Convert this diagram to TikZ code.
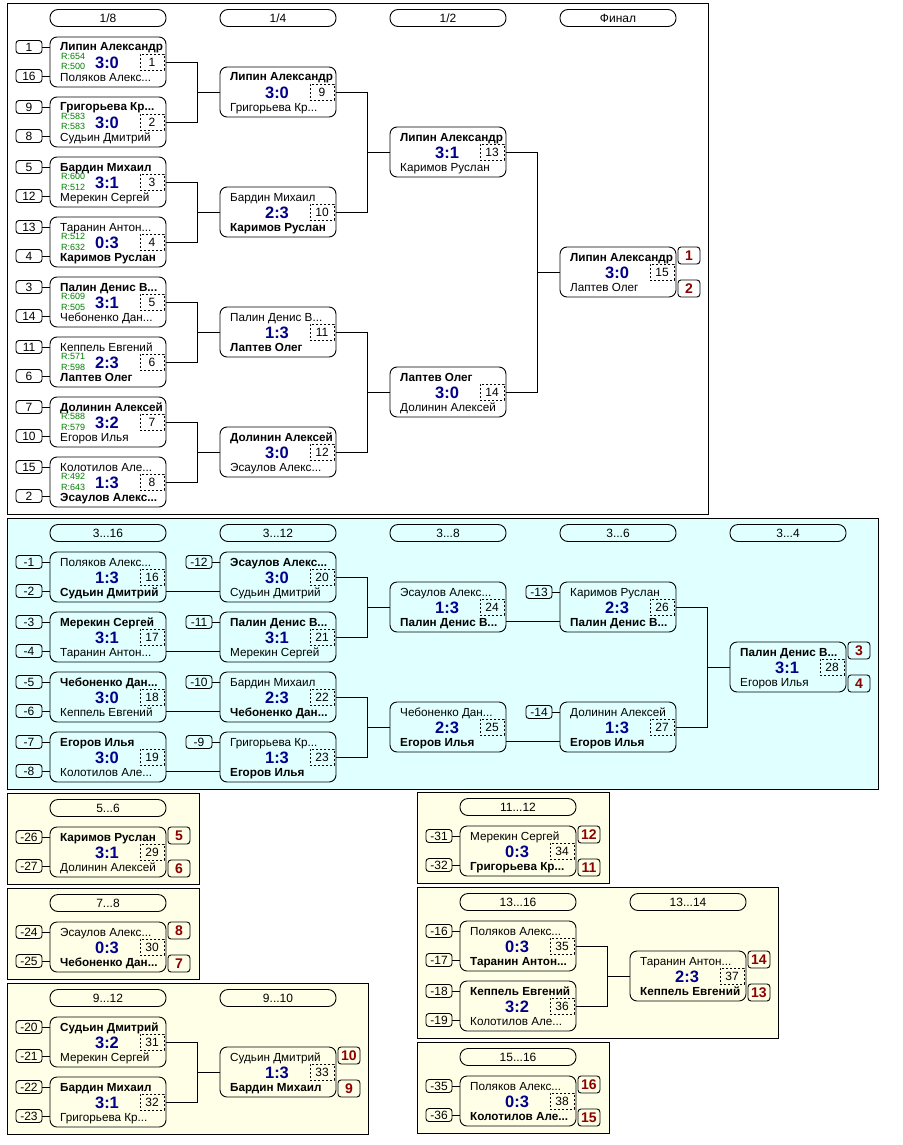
\documentclass[tikz,border=0pt]{standalone}
\usepackage{fontspec}
\setmainfont{Liberation Sans}
\usetikzlibrary{calc}
\definecolor{scoreblue}{RGB}{0,0,140}
\definecolor{ratgreen}{RGB}{0,128,0}
\definecolor{medalred}{RGB}{140,0,0}
\definecolor{cyanbg}{RGB}{224,255,255}
\definecolor{ylw}{RGB}{255,255,232}
\newcommand\myfs[1]{\fontsize{#1}{#1}\selectfont}
\tikzset{
  ln/.style={line width=0.9pt},
  panel/.style={line width=0.9pt, draw=black},
  mbox/.style={draw, line width=0.9pt, rounded corners=7pt, minimum width=116pt, minimum height=50pt, inner sep=0pt},
  numbox/.style={draw, line width=0.8pt, dash pattern=on 2pt off 2pt, minimum width=24pt, minimum height=16pt, inner sep=0pt, font=\myfs{12}},
  seedbox/.style={draw, line width=0.9pt, rounded corners=3pt, minimum width=26pt, minimum height=13pt, inner sep=0pt, font=\myfs{12}},
  medal/.style={draw, line width=0.9pt, rounded corners=3pt, minimum width=22pt, minimum height=17pt, inner sep=0pt, font=\myfs{14}\bfseries, text=medalred},
  hdr/.style={draw, line width=0.9pt, rounded corners=8pt, minimum width=116pt, minimum height=17pt, inner sep=0pt, font=\myfs{12}},
  nm/.style={inner sep=0pt, anchor=base west, font=\myfs{11.7}},
  sc/.style={inner sep=0pt, anchor=base, font=\myfs{16.5}\bfseries, text=scoreblue},
  rt/.style={inner sep=0pt, anchor=base west, font=\myfs{9}, text=ratgreen},
}
% match: name, x-left, center y, top, score, bottom, number
\newcommand\mt[7]{%
  \node[mbox] (#1) at (#2+58,#3) {};
  \node[numbox] (#1n) at (#2+102,#3) {#7};
  \node[nm] (#1t) at (#2+10,#3-11) {#4};
  \node[sc] (#1s) at (#2+57,#3+6.5) {#5};
  \node[nm] (#1b) at (#2+10,#3+19.5) {#6};
}
\newcommand\rat[5]{%
  \node[rt] (#1ra) at (#2+11,#3-2.5) {#4};
  \node[rt] (#1rb) at (#2+11,#3+8) {#5};
}
\newcommand\sdA[4]{%
  \node[seedbox] (#1sa) at (#2-21,#3-15) {#4};
  \draw[ln] (#1sa.east) -- (#1sa.east -| #1.west);
}
\newcommand\sdB[4]{%
  \node[seedbox] (#1sb) at (#2-21,#3+14) {#4};
  \draw[ln] (#1sb.east) -- (#1sb.east -| #1.west);
}
\newcommand\md[3]{%
  \node[medal] (#1ma) at ($(#1.east)+(12.5,-16.5)$) {#2};
  \node[medal] (#1mb) at ($(#1.east)+(12.5,16.5)$) {#3};
}
\newcommand\mjoin[3]{%
  \draw[ln] (#1.east) -- ++(31,0) |- (#3.west);
  \draw[ln] (#2.east) -- ++(31,0) |- (#3.west);
}
\newcommand\blink[2]{%
  \draw[ln] ($(#1.east)+(0,14)$) -- ($(#2.west)+(0,14)$);
}
\begin{document}
\begin{tikzpicture}[x=1pt,y=-1pt]
\fill[white] (0,0) rectangle (902,1145);
\useasboundingbox (0,0) rectangle (902,1145);
% panels
\draw[panel, fill=white] (7,3) rectangle (708,514);
\draw[panel, fill=cyanbg] (7,518) rectangle (878,789);
\draw[panel, fill=ylw] (7,793) rectangle (199,884);
\draw[panel, fill=ylw] (7,888) rectangle (199,979);
\draw[panel, fill=ylw] (7,983) rectangle (368,1134);
\draw[panel, fill=ylw] (417,792) rectangle (609,883);
\draw[panel, fill=ylw] (417,887) rectangle (778,1038);
\draw[panel, fill=ylw] (417,1042) rectangle (609,1133);
% ===== main bracket =====
\node[hdr] (h1) at (108,18) {1/8};
\node[hdr] (h2) at (278,18) {1/4};
\node[hdr] (h3) at (448,18) {1/2};
\node[hdr] (h4) at (618,18) {Финал};
\mt{m1}{50}{62}{\bfseries Липин Александр}{3:0}{Поляков Алекс...}{1}
\rat{m1}{50}{62}{R:654}{R:500}\sdA{m1}{50}{62}{1}\sdB{m1}{50}{62}{16}
\mt{m2}{50}{122}{\bfseries Григорьева Кр...}{3:0}{Судьин Дмитрий}{2}
\rat{m2}{50}{122}{R:583}{R:583}\sdA{m2}{50}{122}{9}\sdB{m2}{50}{122}{8}
\mt{m3}{50}{182}{\bfseries Бардин Михаил}{3:1}{Мерекин Сергей}{3}
\rat{m3}{50}{182}{R:600}{R:512}\sdA{m3}{50}{182}{5}\sdB{m3}{50}{182}{12}
\mt{m4}{50}{242}{Таранин Антон...}{0:3}{\bfseries Каримов Руслан}{4}
\rat{m4}{50}{242}{R:512}{R:632}\sdA{m4}{50}{242}{13}\sdB{m4}{50}{242}{4}
\mt{m5}{50}{302}{\bfseries Палин Денис В...}{3:1}{Чебоненко Дан...}{5}
\rat{m5}{50}{302}{R:609}{R:505}\sdA{m5}{50}{302}{3}\sdB{m5}{50}{302}{14}
\mt{m6}{50}{362}{Кеппель Евгений}{2:3}{\bfseries Лаптев Олег}{6}
\rat{m6}{50}{362}{R:571}{R:598}\sdA{m6}{50}{362}{11}\sdB{m6}{50}{362}{6}
\mt{m7}{50}{422}{\bfseries Долинин Алексей}{3:2}{Егоров Илья}{7}
\rat{m7}{50}{422}{R:588}{R:579}\sdA{m7}{50}{422}{7}\sdB{m7}{50}{422}{10}
\mt{m8}{50}{482}{Колотилов Але...}{1:3}{\bfseries Эсаулов Алекс...}{8}
\rat{m8}{50}{482}{R:492}{R:643}\sdA{m8}{50}{482}{15}\sdB{m8}{50}{482}{2}
\mt{m9}{220}{92}{\bfseries Липин Александр}{3:0}{Григорьева Кр...}{9}
\mt{m10}{220}{212}{Бардин Михаил}{2:3}{\bfseries Каримов Руслан}{10}
\mt{m11}{220}{332}{Палин Денис В...}{1:3}{\bfseries Лаптев Олег}{11}
\mt{m12}{220}{452}{\bfseries Долинин Алексей}{3:0}{Эсаулов Алекс...}{12}
\mt{m13}{390}{152}{\bfseries Липин Александр}{3:1}{Каримов Руслан}{13}
\mt{m14}{390}{392}{\bfseries Лаптев Олег}{3:0}{Долинин Алексей}{14}
\mt{m15}{560}{272}{\bfseries Липин Александр}{3:0}{Лаптев Олег}{15}
\md{m15}{1}{2}
\mjoin{m1}{m2}{m9}\mjoin{m3}{m4}{m10}\mjoin{m5}{m6}{m11}\mjoin{m7}{m8}{m12}
\mjoin{m9}{m10}{m13}\mjoin{m11}{m12}{m14}\mjoin{m13}{m14}{m15}
% ===== 3...16 =====
\node[hdr] (h5) at (108,533) {3...16};
\node[hdr] (h6) at (278,533) {3...12};
\node[hdr] (h7) at (448,533) {3...8};
\node[hdr] (h8) at (618,533) {3...6};
\node[hdr] (h9) at (788,533) {3...4};
\mt{m16}{50}{577}{Поляков Алекс...}{1:3}{\bfseries Судьин Дмитрий}{16}
\sdA{m16}{50}{577}{-1}\sdB{m16}{50}{577}{-2}
\mt{m17}{50}{637}{\bfseries Мерекин Сергей}{3:1}{Таранин Антон...}{17}
\sdA{m17}{50}{637}{-3}\sdB{m17}{50}{637}{-4}
\mt{m18}{50}{697}{\bfseries Чебоненко Дан...}{3:0}{Кеппель Евгений}{18}
\sdA{m18}{50}{697}{-5}\sdB{m18}{50}{697}{-6}
\mt{m19}{50}{757}{\bfseries Егоров Илья}{3:0}{Колотилов Але...}{19}
\sdA{m19}{50}{757}{-7}\sdB{m19}{50}{757}{-8}
\mt{m20}{220}{577}{\bfseries Эсаулов Алекс...}{3:0}{Судьин Дмитрий}{20}
\sdA{m20}{220}{577}{-12}
\mt{m21}{220}{637}{\bfseries Палин Денис В...}{3:1}{Мерекин Сергей}{21}
\sdA{m21}{220}{637}{-11}
\mt{m22}{220}{697}{Бардин Михаил}{2:3}{\bfseries Чебоненко Дан...}{22}
\sdA{m22}{220}{697}{-10}
\mt{m23}{220}{757}{Григорьева Кр...}{1:3}{\bfseries Егоров Илья}{23}
\sdA{m23}{220}{757}{-9}
\blink{m16}{m20}\blink{m17}{m21}\blink{m18}{m22}\blink{m19}{m23}
\mt{m24}{390}{607}{Эсаулов Алекс...}{1:3}{\bfseries Палин Денис В...}{24}
\mt{m25}{390}{727}{Чебоненко Дан...}{2:3}{\bfseries Егоров Илья}{25}
\mjoin{m20}{m21}{m24}\mjoin{m22}{m23}{m25}
\mt{m26}{560}{607}{Каримов Руслан}{2:3}{\bfseries Палин Денис В...}{26}
\sdA{m26}{560}{607}{-13}
\mt{m27}{560}{727}{Долинин Алексей}{1:3}{\bfseries Егоров Илья}{27}
\sdA{m27}{560}{727}{-14}
\blink{m24}{m26}\blink{m25}{m27}
\mt{m28}{730}{667}{\bfseries Палин Денис В...}{3:1}{Егоров Илья}{28}
\md{m28}{3}{4}
\mjoin{m26}{m27}{m28}
% ===== 5...6 =====
\node[hdr] (h10) at (108,808) {5...6};
\mt{m29}{50}{852}{\bfseries Каримов Руслан}{3:1}{Долинин Алексей}{29}
\sdA{m29}{50}{852}{-26}\sdB{m29}{50}{852}{-27}
\md{m29}{5}{6}
% ===== 7...8 =====
\node[hdr] (h11) at (108,903) {7...8};
\mt{m30}{50}{947}{Эсаулов Алекс...}{0:3}{\bfseries Чебоненко Дан...}{30}
\sdA{m30}{50}{947}{-24}\sdB{m30}{50}{947}{-25}
\md{m30}{8}{7}
% ===== 9...12 =====
\node[hdr] (h12) at (108,998) {9...12};
\node[hdr] (h13) at (278,998) {9...10};
\mt{m31}{50}{1042}{\bfseries Судьин Дмитрий}{3:2}{Мерекин Сергей}{31}
\sdA{m31}{50}{1042}{-20}\sdB{m31}{50}{1042}{-21}
\mt{m32}{50}{1102}{\bfseries Бардин Михаил}{3:1}{Григорьева Кр...}{32}
\sdA{m32}{50}{1102}{-22}\sdB{m32}{50}{1102}{-23}
\mt{m33}{220}{1072}{Судьин Дмитрий}{1:3}{\bfseries Бардин Михаил}{33}
\md{m33}{10}{9}
\mjoin{m31}{m32}{m33}
% ===== 11...12 =====
\node[hdr] (h14) at (518,807) {11...12};
\mt{m34}{460}{851}{Мерекин Сергей}{0:3}{\bfseries Григорьева Кр...}{34}
\sdA{m34}{460}{851}{-31}\sdB{m34}{460}{851}{-32}
\md{m34}{12}{11}
% ===== 13...16 =====
\node[hdr] (h15) at (518,902) {13...16};
\node[hdr] (h16) at (688,902) {13...14};
\mt{m35}{460}{946}{Поляков Алекс...}{0:3}{\bfseries Таранин Антон...}{35}
\sdA{m35}{460}{946}{-16}\sdB{m35}{460}{946}{-17}
\mt{m36}{460}{1006}{\bfseries Кеппель Евгений}{3:2}{Колотилов Але...}{36}
\sdA{m36}{460}{1006}{-18}\sdB{m36}{460}{1006}{-19}
\mt{m37}{630}{976}{Таранин Антон...}{2:3}{\bfseries Кеппель Евгений}{37}
\md{m37}{14}{13}
\mjoin{m35}{m36}{m37}
% ===== 15...16 =====
\node[hdr] (h17) at (518,1057) {15...16};
\mt{m38}{460}{1101}{Поляков Алекс...}{0:3}{\bfseries Колотилов Але...}{38}
\sdA{m38}{460}{1101}{-35}\sdB{m38}{460}{1101}{-36}
\md{m38}{16}{15}
\end{tikzpicture}
\end{document}
